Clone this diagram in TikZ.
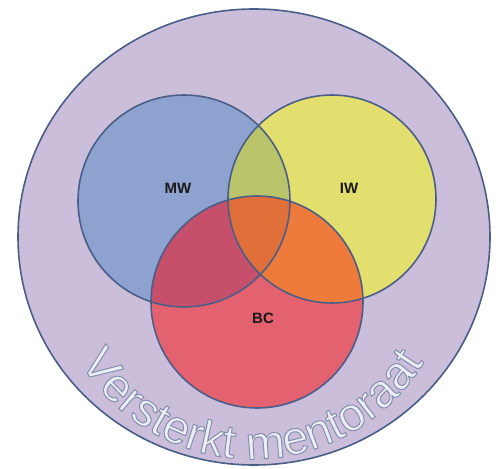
\documentclass[tikz,border=0pt]{standalone}
\usepackage{fontspec}
\setsansfont{Liberation Sans}
\setmainfont{Liberation Sans}
\usetikzlibrary{decorations.text,shapes.geometric}
\definecolor{outerfill}{HTML}{CBBEDB}
\definecolor{ringline}{HTML}{4A5E88}
\definecolor{mwfill}{HTML}{8EA2CF}
\definecolor{iwfill}{HTML}{E3DF6E}
\definecolor{bcfill}{HTML}{E4626F}
\definecolor{mwiw}{HTML}{BAC46A}
\definecolor{mwbc}{HTML}{C64F6B}
\definecolor{iwbc}{HTML}{EE7A3C}
\definecolor{allthree}{HTML}{E06F3A}
\definecolor{txtfill}{HTML}{ECEEF6}
\tikzset{
  setlabel/.style={font=\sffamily\bfseries\fontsize{15}{15}\selectfont, text=black!90},
  ringstroke/.style={draw=ringline, line width=1.6pt},
}
\newcommand{\outlinemode}{\special{pdf:code 2 Tr 0.52 0.56 0.68 RG 1.0 w}}
\begin{document}
\begin{tikzpicture}[x=1pt,y=1pt]
\useasboundingbox (0,0) rectangle (500,-468);
\fill[white] (0,0) rectangle (500,-468);
% outer
\node[draw=ringline, line width=1.6pt, fill=outerfill, ellipse, minimum width=472pt, minimum height=456pt, inner sep=0pt] (outer) at (254,-237) {};
% sets
\coordinate (mwc) at (184,-201);
\coordinate (iwc) at (332,-199);
\coordinate (bcc) at (257,-302);
\fill[mwfill] (mwc) circle[radius=106];
\fill[iwfill] (iwc) circle[radius=104];
\fill[bcfill] (bcc) circle[radius=106];
\begin{scope}
  \clip (mwc) circle[radius=106];
  \fill[mwiw] (iwc) circle[radius=104];
  \fill[mwbc] (bcc) circle[radius=106];
  \clip (iwc) circle[radius=104];
  \fill[allthree] (bcc) circle[radius=106];
\end{scope}
\begin{scope}
  \clip (iwc) circle[radius=104];
  \clip (bcc) circle[radius=106];
  \fill[iwbc] (bcc) circle[radius=106];
  \clip (mwc) circle[radius=106];
  \fill[allthree] (bcc) circle[radius=106];
\end{scope}
\node[circle, ringstroke, minimum size=212pt, inner sep=0pt] (mw) at (mwc) {};
\node[circle, ringstroke, minimum size=208pt, inner sep=0pt] (iw) at (iwc) {};
\node[circle, ringstroke, minimum size=212pt, inner sep=0pt] (bc) at (bcc) {};
\node[setlabel] (mwlab) at (178,-188) {MW};
\node[setlabel] (iwlab) at (349,-188) {IW};
\node[setlabel] (bclab) at (263,-318) {BC};
% curved text
\path[decorate, decoration={text along path,
    text align=center, text format delimiters={|}{|},
    text={|\sffamily\fontsize{47}{47}\selectfont\color{txtfill}\outlinemode|Versterkt mentoraat}}]
    (252,-258) ++(190:201) arc[start angle=190, end angle=350, radius=201];
\end{tikzpicture}
\end{document}
